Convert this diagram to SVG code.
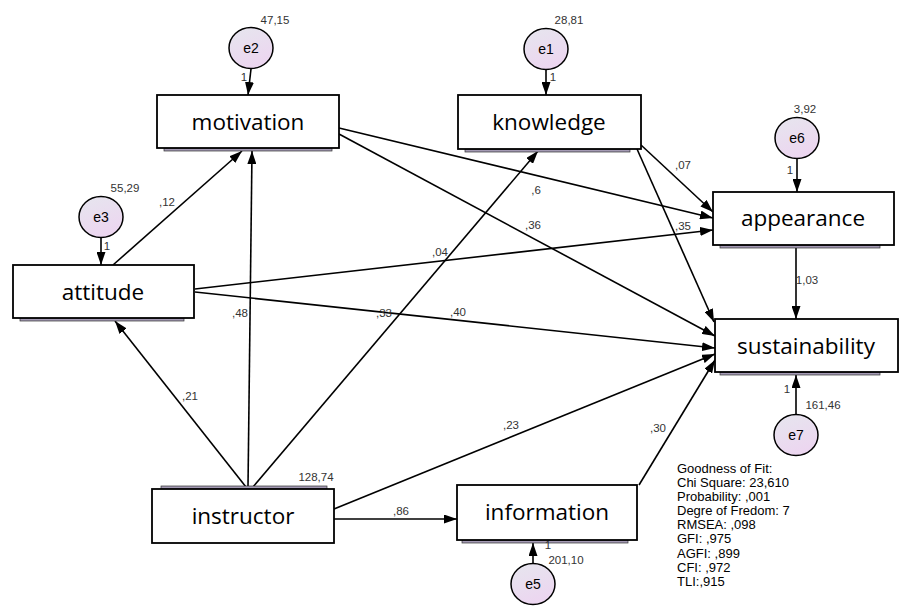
<svg xmlns="http://www.w3.org/2000/svg" width="901" height="609" viewBox="0 0 901 609">
<defs>
<linearGradient id="cg" x1="0" y1="0" x2="0.4" y2="1">
<stop offset="0" stop-color="#e6e6ee"/>
<stop offset="1" stop-color="#ecd6f0"/>
</linearGradient>
<marker id="ah" viewBox="0 0 13 9" refX="13" refY="4.5" markerWidth="13" markerHeight="9" markerUnits="userSpaceOnUse" orient="auto">
<path d="M0,0 L13,4.5 L0,9 z" fill="#000"/>
</marker>
<style>
.box{fill:#fff;stroke:#000;stroke-width:1.8}
.sh{fill:#a49ab4;stroke:#333;stroke-width:0.7}
.err{fill:url(#cg);stroke:#000;stroke-width:1.5}
.lbl{font-family:"Open Sans","Noto Sans",sans-serif;font-size:22.5px;fill:#000;text-anchor:middle}
.et{font-family:"Liberation Sans",Arial,sans-serif;font-size:14px;fill:#000;text-anchor:middle}
.num{font-family:"Liberation Sans",Arial,sans-serif;font-size:11.5px;fill:#333;text-anchor:middle}
.gof{font-family:"Liberation Sans",Arial,sans-serif;font-size:13px;fill:#000}
.c line{stroke:#000;stroke-width:1.6;marker-end:url(#ah)}
</style>
</defs>
<rect width="901" height="609" fill="#fff"/>

<g id="connectors" class="c">
<line x1="251" y1="69" x2="248" y2="95"/>
<line x1="546" y1="69" x2="546" y2="95"/>
<line x1="101" y1="238" x2="101" y2="265"/>
<line x1="797" y1="158" x2="797" y2="192"/>
<line x1="796" y1="414" x2="796" y2="375"/>
<line x1="533" y1="563" x2="533" y2="543"/>
<line x1="113" y1="265" x2="242" y2="151"/>
<line x1="248" y1="487" x2="252" y2="151"/>
<line x1="246" y1="487" x2="115" y2="321"/>
<line x1="253" y1="487" x2="538" y2="151"/>
<line x1="334" y1="519" x2="457" y2="519"/>
<line x1="334" y1="509" x2="715" y2="354"/>
<line x1="639" y1="485" x2="715" y2="360"/>
<line x1="195" y1="289" x2="713" y2="230"/>
<line x1="195" y1="292" x2="715" y2="348"/>
<line x1="339" y1="128" x2="713" y2="218"/>
<line x1="339" y1="134" x2="715" y2="336"/>
<line x1="641" y1="145" x2="713" y2="212"/>
<line x1="637" y1="149" x2="714" y2="322"/>
<line x1="796" y1="247" x2="796" y2="319"/>
</g>

<g id="motivation">
<rect class="sh" x="164" y="148" width="168" height="3"/>
<rect class="box" x="157" y="95" width="182" height="53"/>
<text class="lbl" x="248" y="130">motivation</text>
</g>
<g id="knowledge">
<rect class="sh" x="465" y="149" width="165" height="3"/>
<rect class="box" x="458" y="95" width="183" height="54"/>
<text class="lbl" x="549" y="130">knowledge</text>
</g>
<g id="appearance">
<rect class="sh" x="720" y="245" width="160" height="3"/>
<rect class="box" x="713" y="192" width="181" height="53"/>
<text class="lbl" x="803" y="226">appearance</text>
</g>
<g id="sustainability">
<rect class="sh" x="720" y="372" width="160" height="3"/>
<rect class="box" x="715" y="319" width="183" height="53"/>
<text class="lbl" x="806" y="354">sustainability</text>
</g>
<g id="attitude">
<rect class="sh" x="20" y="318" width="164" height="3"/>
<rect class="box" x="13" y="265" width="181" height="53"/>
<text class="lbl" x="103" y="300">attitude</text>
</g>
<g id="instructor">
<rect class="sh" x="161" y="486" width="166" height="3"/>
<rect class="box" x="152" y="489" width="182" height="54"/>
<text class="lbl" x="243" y="524">instructor</text>
</g>
<g id="information">
<rect class="sh" x="462" y="540" width="166" height="3"/>
<rect class="box" x="457" y="485" width="180" height="55"/>
<text class="lbl" x="547" y="520">information</text>
</g>

<g id="e2">
<ellipse class="err" cx="251" cy="48" rx="22" ry="20.5"/>
<text class="et" x="251" y="53">e2</text>
<text class="num" x="275" y="24">47,15</text>
<text class="num" x="244" y="81">1</text>
</g>
<g id="e1">
<ellipse class="err" cx="546" cy="49" rx="22" ry="20.5"/>
<text class="et" x="546" y="54">e1</text>
<text class="num" x="569" y="24">28,81</text>
<text class="num" x="553" y="81">1</text>
</g>
<g id="e3">
<ellipse class="err" cx="101" cy="217" rx="22" ry="20.5"/>
<text class="et" x="101" y="222">e3</text>
<text class="num" x="125" y="192">55,29</text>
<text class="num" x="107" y="250">1</text>
</g>
<g id="e6">
<ellipse class="err" cx="797" cy="138" rx="22" ry="20.5"/>
<text class="et" x="797" y="143">e6</text>
<text class="num" x="805" y="113">3,92</text>
<text class="num" x="790" y="174">1</text>
</g>
<g id="e7">
<ellipse class="err" cx="796" cy="435" rx="22" ry="20.5"/>
<text class="et" x="796" y="440">e7</text>
<text class="num" x="823" y="409">161,46</text>
<text class="num" x="787" y="393">1</text>
</g>
<g id="e5">
<ellipse class="err" cx="533" cy="584" rx="22" ry="20.5"/>
<text class="et" x="533" y="589">e5</text>
<text class="num" x="566" y="564">201,10</text>
<text class="num" x="548" y="549">1</text>
</g>

<g id="path-labels">
<text class="num" x="167" y="206">,12</text>
<text class="num" x="683" y="169">,07</text>
<text class="num" x="536" y="194">,6</text>
<text class="num" x="533" y="229">,36</text>
<text class="num" x="683" y="230">,35</text>
<text class="num" x="440" y="256">,04</text>
<text class="num" x="240" y="317">,48</text>
<text class="num" x="384" y="317">,33</text>
<text class="num" x="458" y="316">,40</text>
<text class="num" x="807" y="284">1,03</text>
<text class="num" x="190" y="400">,21</text>
<text class="num" x="511" y="429">,23</text>
<text class="num" x="658" y="432">,30</text>
<text class="num" x="316" y="481">128,74</text>
<text class="num" x="401" y="515">,86</text>
</g>

<g id="goodness-of-fit" class="gof">
<text x="677" y="473">Goodness of Fit:</text>
<text x="677" y="487">Chi Square: 23,610</text>
<text x="677" y="501">Probability: ,001</text>
<text x="677" y="515">Degre of Fredom: 7</text>
<text x="677" y="529">RMSEA: ,098</text>
<text x="677" y="543">GFI: ,975</text>
<text x="677" y="558">AGFI: ,899</text>
<text x="677" y="572">CFI: ,972</text>
<text x="677" y="586">TLI:,915</text>
</g>
</svg>
